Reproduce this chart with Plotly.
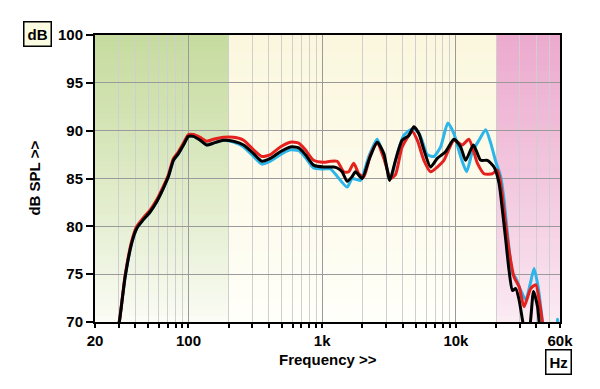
import plotly.graph_objects as go
import numpy as np

# ---------------- data ----------------
freq_black = [29, 30.4, 33.6, 37.7, 41.1, 46, 51.6, 58, 65, 70.8, 77.2, 84.1, 91.7, 100, 108.9, 122.3,
              137.3, 153.8, 182.9, 217.4, 258.2, 306.8, 354.6, 409.3, 486, 578, 667, 748, 863, 1026,
              1219, 1294, 1410, 1536, 1675, 1774, 1991, 2230, 2577, 2890, 3200, 3531, 3963, 4445, 4845,
              5283, 5760, 6460, 7255, 8370, 9660, 10840, 11820, 13500, 15310, 17180, 19270, 21000,
              22250, 23560, 24950, 26480, 28000, 29670, 31460, 33000, 35250, 38030, 40740, 41900, 43500]
spl_black = [68.8, 70.0, 74.7, 78.3, 79.8, 80.7, 81.5, 82.6, 84.0, 85.2, 86.9, 87.6, 88.5, 89.4, 89.4, 89.0,
             88.5, 88.7, 89.0, 88.9, 88.5, 87.6, 86.8, 87.1, 87.8, 88.3, 88.2, 87.5, 86.4, 86.2,
             86.2, 86.1, 85.7, 84.7, 85.2, 85.7, 85.0, 86.9, 88.8, 87.6, 84.8, 86.9, 89.0, 89.5, 90.4,
             89.7, 88.0, 86.2, 87.1, 87.8, 89.1, 88.3, 86.9, 88.5, 86.9, 86.9, 86.2, 84.5,
             81.7, 78.6, 75.4, 73.3, 73.5, 72.3, 70.2, 68.5, 69.0, 73.2, 71.6, 70.0, 68.5]

freq_red = [29, 30.4, 33.6, 37.7, 41.1, 46, 51.6, 58, 65, 70.8, 77.2, 84.1, 91.7, 100, 108.9, 122.3,
            137.3, 153.8, 182.9, 217.4, 258.2, 306.8, 354.6, 409.3, 486, 578, 667, 748, 863, 1026,
            1152, 1294, 1449, 1578, 1722, 1876, 2047, 2297, 2577, 2890, 3244, 3531, 3963, 4713, 5140,
            5760, 6460, 7255, 8125, 9660, 11160, 12510, 14460, 16220, 18720, 20410, 21620, 22880,
            24950, 27200, 29670, 32300, 36240, 39520, 41900, 44370, 46000]
spl_red = [68.9, 70.1, 74.9, 78.5, 80.0, 80.9, 81.7, 82.8, 84.2, 85.4, 87.1, 87.8, 88.7, 89.6, 89.6, 89.3,
           88.9, 89.1, 89.3, 89.3, 89.0, 88.0, 87.3, 87.5, 88.3, 88.8, 88.7, 88.0, 86.9, 86.7,
           86.8, 86.8, 85.7, 85.7, 86.6, 85.5, 85.2, 87.5, 88.7, 87.1, 85.0, 85.4, 88.3, 89.9, 89.0,
           86.9, 85.7, 86.2, 86.9, 89.0, 88.5, 89.1, 86.6, 85.5, 85.5, 85.9, 84.5, 81.7,
           77.5, 74.7, 73.7, 71.6, 73.5, 73.9, 72.3, 70.0, 68.5]

freq_blue = [29, 30.4, 33.6, 37.7, 41.1, 46, 51.6, 58, 65, 70.8, 77.2, 84.1, 91.7, 100, 108.9, 122.3,
             137.3, 153.8, 182.9, 217.4, 258.2, 306.8, 354.6, 409.3, 486, 578, 667, 748, 863, 1026,
             1152, 1536, 1675, 1932, 2230, 2577, 2890, 3244, 3640, 4075, 4580, 4990, 5440, 6110,
             6840, 7680, 8700, 9660, 10840, 12030, 13270, 14870, 16680, 18200, 19820, 21620, 22880,
             24270, 26480, 28000, 30530, 33270, 35820, 38390, 41130, 43640, 46000, 56000, 57500, 59000]
spl_blue = [68.8, 70.0, 74.7, 78.3, 79.8, 80.7, 81.5, 82.6, 84.0, 85.2, 86.9, 87.6, 88.5, 89.4, 89.4, 89.0,
            88.5, 88.7, 89.0, 88.8, 88.3, 87.3, 86.5, 86.8, 87.5, 88.0, 87.9, 87.2, 86.1, 86.0,
            86.0, 84.1, 85.0, 84.8, 87.3, 89.1, 87.3, 85.0, 87.6, 89.5, 90.1, 90.1, 89.4, 87.5,
            87.3, 88.3, 90.8, 89.7, 87.3, 85.7, 87.8, 89.0, 90.1, 88.7, 86.8, 85.2, 82.8,
            79.3, 75.1, 74.6, 73.3, 72.3, 73.9, 75.6, 73.7, 70.9, 68.0, 67.0, 70.3, 67.0]

x_tickvals = [20, 100, 1000, 10000, 60000]
x_ticktext = ["20", "100", "1k", "10k", "60k"]
x_minor = [30, 40, 50, 60, 70, 80, 90, 200, 300, 400, 500, 600, 700, 800, 900,
           2000, 3000, 4000, 5000, 6000, 7000, 8000, 9000, 20000, 30000, 40000, 50000]
y_ticks = [70, 75, 80, 85, 90, 95, 100]

# background bands: (f_start, f_end, top colour, bottom colour)
regions = [
    (20, 200, (198, 219, 158), (252, 253, 247)),
    (200, 20000, (251, 247, 222), (255, 255, 250)),
    (20000, 60000, (236, 170, 206), (251, 236, 244)),
]

FONT = "Liberation Sans, Arial, sans-serif"

fig = go.Figure()

# gradient backgrounds as stacked rectangles
shapes = []
N = 48
for f0, f1, top, bot in regions:
    for i in range(N):
        y0 = 70 + 30 * i / N
        t = (i + 0.5) / N
        c = [int(round(b + (tp - b) * t ** 0.85)) for tp, b in zip(top, bot)]
        shapes.append(dict(type="rect", xref="x", yref="y", x0=f0, x1=f1, y0=y0, y1=100,
                           fillcolor=f"rgb({c[0]},{c[1]},{c[2]})", line=dict(width=0),
                           layer="below"))

for f, s, col in [(freq_blue, spl_blue, "#2bb5e8"), (freq_red, spl_red, "#e5201d"),
                  (freq_black, spl_black, "#000000")]:
    fig.add_trace(go.Scatter(x=f, y=s, mode="lines",
                             line=dict(color=col, width=3, shape="spline", smoothing=0.6),
                             showlegend=False, hoverinfo="skip"))

# the page body adds an 8px offset, so margins are reduced by 8px
fig.update_layout(
    width=600, height=389,
    margin=dict(l=87, r=48, t=27, b=75, autoexpand=False),
    paper_bgcolor="white", plot_bgcolor="white",
    shapes=shapes,
    xaxis=dict(type="log", range=[np.log10(20), np.log10(60000)], automargin=False,
               tickvals=x_tickvals, ticktext=x_ticktext,
               tickfont=dict(family=FONT, size=15, color="black", weight="bold"),
               ticks="outside", ticklen=4, tickwidth=1.5, tickcolor="black",
               showgrid=True, gridcolor="#9a9a9a", gridwidth=1,
               minor=dict(tickvals=x_minor, showgrid=True, gridcolor="#cfcfcf", gridwidth=1,
                          ticks="outside", ticklen=4, tickwidth=1.5, tickcolor="black"),
               showline=True, linecolor="black", linewidth=2, mirror=True, zeroline=False),
    yaxis=dict(range=[70, 100], tickvals=y_ticks, automargin=False,
               tickfont=dict(family=FONT, size=15, color="black", weight="bold"),
               ticks="outside", ticklen=7, tickwidth=2, tickcolor="black",
               showgrid=True, gridcolor="#9a9a9a", gridwidth=1,
               showline=True, linecolor="black", linewidth=2, mirror=True, zeroline=False),
    annotations=[
        dict(text="dB", xref="paper", yref="paper", x=-0.124, y=1.002, showarrow=False,
             xanchor="center", yanchor="middle",
             font=dict(family=FONT, size=15, color="black", weight="bold"),
             bgcolor="#fbfbe2", bordercolor="black", borderwidth=1.5, borderpad=3),
        dict(text="Hz", xref="paper", yref="paper", x=0.997, y=-0.138, showarrow=False,
             xanchor="center", yanchor="middle",
             font=dict(family=FONT, size=15, color="black", weight="bold"),
             bgcolor="white", bordercolor="black", borderwidth=1.5, borderpad=3),
        dict(text="Frequency >>", xref="paper", yref="paper", x=0.5, y=-0.132, showarrow=False,
             xanchor="center", yanchor="middle",
             font=dict(family=FONT, size=15, color="black", weight="bold")),
        dict(text="dB SPL >>", xref="paper", yref="paper", x=-0.131, y=0.5, showarrow=False,
             xanchor="center", yanchor="middle", textangle=-90,
             font=dict(family=FONT, size=15, color="black", weight="bold")),
    ],
)

fig.write_html("out.html")
